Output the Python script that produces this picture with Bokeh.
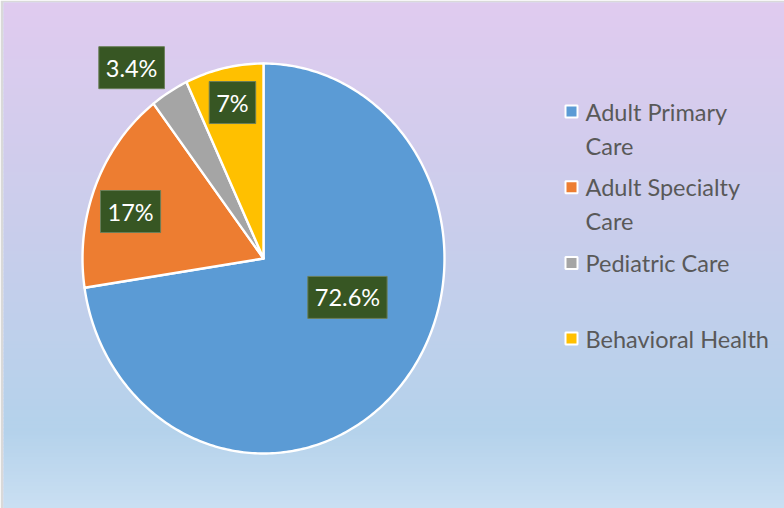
import math
import numpy as np
from bokeh.plotting import figure
from bokeh.models import Range1d, ColumnDataSource
from bokeh.core.properties import value
from bokeh.embed import file_html
from bokeh.resources import INLINE

# ---------------- data ----------------
categories = ["Adult Primary Care", "Adult Specialty Care", "Pediatric Care", "Behavioral Health"]
shares = [72.6, 17.0, 3.4, 7.0]
share_labels = ["72.6%", "17%", "3.4%", "7%"]
legend_lines = [["Adult Primary", "Care"], ["Adult Specialty", "Care"], ["Pediatric Care"], ["Behavioral Health"]]

# ---------------- style ----------------
colors = ["#5B9BD5", "#ED7D31", "#A5A5A5", "#FFC000"]
W, H = 784, 508
CX, CY = 263, 258          # pie centre (px)
RX, RY = 181, 195          # pie radii (px)
BORDER_L, BORDER_T = 3, 2
FONT = "Lato"
FONT_SIZE = "23.5px"
# label placement: radial factor and angular nudge (deg) relative to slice mid-angle
label_r = [0.505, 0.773, 1.22, 0.818]
label_nudge = [-17.4, -3.8, -5.35, 0.5]
LEG_X, LEG_Y0, LEG_SLOT, LEG_LINE = 571, 111, 75.7, 34
LEG_TEXT_X = 585


def sx(px):
    return (px - CX) / RX


def sy(py):
    return (CY - py) / RY


p = figure(width=W, height=H, output_backend="svg", toolbar_location=None,
           x_range=Range1d(sx(BORDER_L), sx(W)), y_range=Range1d(sy(H), sy(BORDER_T)),
           min_border_left=BORDER_L, min_border_top=BORDER_T, min_border_right=0, min_border_bottom=0,
           border_fill_color="#D9D9D9", outline_line_color=None, background_fill_color="#C8CFEC")
p.axis.visible = False
p.grid.visible = False

# ---------------- background gradient ----------------
stops = [(0.0, (0xE0, 0xCB, 0xEF)), (0.45, (0xC9, 0xCD, 0xEB)), (0.85, (0xB4, 0xD2, 0xEB)), (1.0, (0xCA, 0xDF, 0xF2))]
nb = 140
y_top, y_bot = sy(BORDER_T), sy(H)
edges = np.linspace(y_top, y_bot, nb + 1)
band_cols = []
for i in range(nb):
    t = (i + 0.5) / nb
    for (t0, c0), (t1, c1) in zip(stops[:-1], stops[1:]):
        if t0 <= t <= t1:
            f = (t - t0) / (t1 - t0)
            c = tuple(int(round(a + (b - a) * f)) for a, b in zip(c0, c1))
            break
    band_cols.append("#%02x%02x%02x" % c)
step = (y_top - y_bot) / nb
p.quad(left=sx(BORDER_L), right=sx(W), top=edges[:-1] + step * 0.3, bottom=edges[1:] - step * 0.3,
       fill_color=band_cols, line_color=None)

# ---------------- pie slices (ellipse) ----------------
total = sum(shares)
cum = np.concatenate([[0], np.cumsum(shares)]) / total
xs, ys, mids = [], [], []
for i in range(len(shares)):
    a0, a1 = cum[i] * 2 * math.pi, cum[i + 1] * 2 * math.pi
    n = max(4, int((a1 - a0) / (2 * math.pi) * 400))
    th = np.linspace(a0, a1, n)
    xs.append([0.0] + list(np.sin(th)) + [0.0])
    ys.append([0.0] + list(np.cos(th)) + [0.0])
    mids.append((a0 + a1) / 2)
p.patches(xs=xs, ys=ys, fill_color=colors, line_color="white", line_width=2.4, line_join="round")

# ---------------- data labels ----------------
lx, ly = [], []
for i, m in enumerate(mids):
    a = m + math.radians(label_nudge[i])
    lx.append(label_r[i] * math.sin(a))
    ly.append(label_r[i] * math.cos(a))
src = ColumnDataSource(dict(x=lx, y=ly, t=share_labels))
p.text(x="x", y="y", text="t", source=src, text_align="center", text_baseline="middle",
       text_font=value(FONT), text_font_size=FONT_SIZE, text_color="#FFFFFF",
       background_fill_color="#375623", border_line_color="#6B7F5A", border_line_width=1,
       padding=7)

# ---------------- legend ----------------
leg_y = [sy(LEG_Y0 + i * LEG_SLOT) for i in range(len(categories))]
p.scatter(x=[sx(LEG_X)] * len(categories), y=leg_y, marker="square", size=12,
          fill_color=colors, line_color="white", line_width=2)
tx, ty, tt = [], [], []
for i, lines in enumerate(legend_lines):
    for j, ln in enumerate(lines):
        tx.append(sx(LEG_TEXT_X))
        ty.append(sy(LEG_Y0 + i * LEG_SLOT + j * LEG_LINE))
        tt.append(ln)
p.text(x=tx, y=ty, text=tt, text_align="left", text_baseline="middle",
       text_font=value(FONT), text_font_size=FONT_SIZE, text_color="#595959")

open("out.html", "w").write(file_html(p, INLINE))
